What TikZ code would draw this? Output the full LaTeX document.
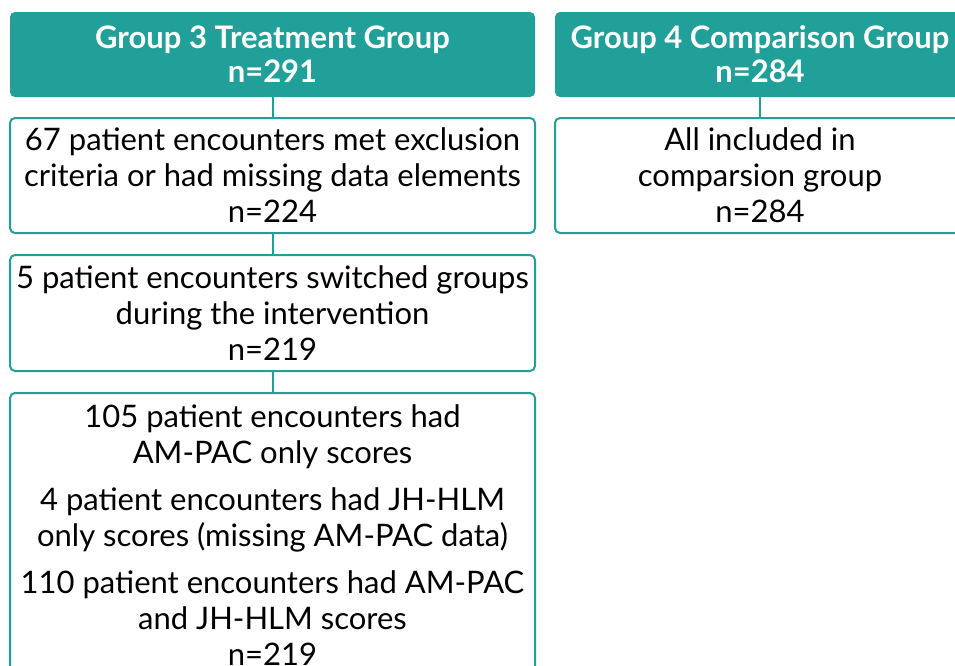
\documentclass[tikz,border=0pt]{standalone}
\usepackage{fontspec}
\setmainfont{Lato}
\definecolor{teal1}{RGB}{33,160,154}
\begin{document}
\begin{tikzpicture}[x=1pt,y=-1pt,
  hdr/.style={fill=teal1, rounded corners=5pt, minimum height=85pt, inner sep=0pt,
     text=white, align=center, font=\fontsize{31}{34}\selectfont\bfseries},
  bx/.style={draw=teal1, line width=2pt, fill=white, rounded corners=5pt, inner sep=0pt,
     align=center, font=\fontsize{31}{36}\selectfont},
  conn/.style={draw=teal1, line width=2pt}]
\useasboundingbox (0,0) rectangle (955,665);
\begin{scope}
\clip (0,0) rectangle (955,665);
\node[hdr, minimum width=525pt] (h1) at (272.5,54.5) {Group 3 Treatment Group\\n=291};
\node[hdr, minimum width=410pt] (h2) at (760,54.5) {Group 4 Comparison Group\\n=284};
\node[bx, minimum width=525pt, minimum height=115pt] (b1) at (272.5,175.5)
  {67 patient encounters met exclusion\\criteria or had missing data elements\\n=224};
\node[bx, minimum width=410pt, minimum height=115pt] (r1) at (760,175.5)
  {All included in\\comparsion group\\n=284};
\node[bx, minimum width=525pt, minimum height=116pt] (b2) at (272.5,313)
  {5 patient encounters switched groups\\during the intervention\\n=219};
\node[bx, minimum width=525pt, minimum height=284pt] (b3) at (272.5,535)
  {105 patient encounters had\\AM-PAC only scores\\[11pt]4 patient encounters had JH-HLM\\only scores (missing AM-PAC data)\\[11pt]110 patient encounters had AM-PAC\\and JH-HLM scores\\n=219};
\draw[conn] (h1.south) -- (b1.north);
\draw[conn] (b1.south) -- (b2.north);
\draw[conn] (b2.south) -- (b3.north);
\draw[conn] (h2.south) -- (r1.north);
\end{scope}
\end{tikzpicture}
\end{document}
